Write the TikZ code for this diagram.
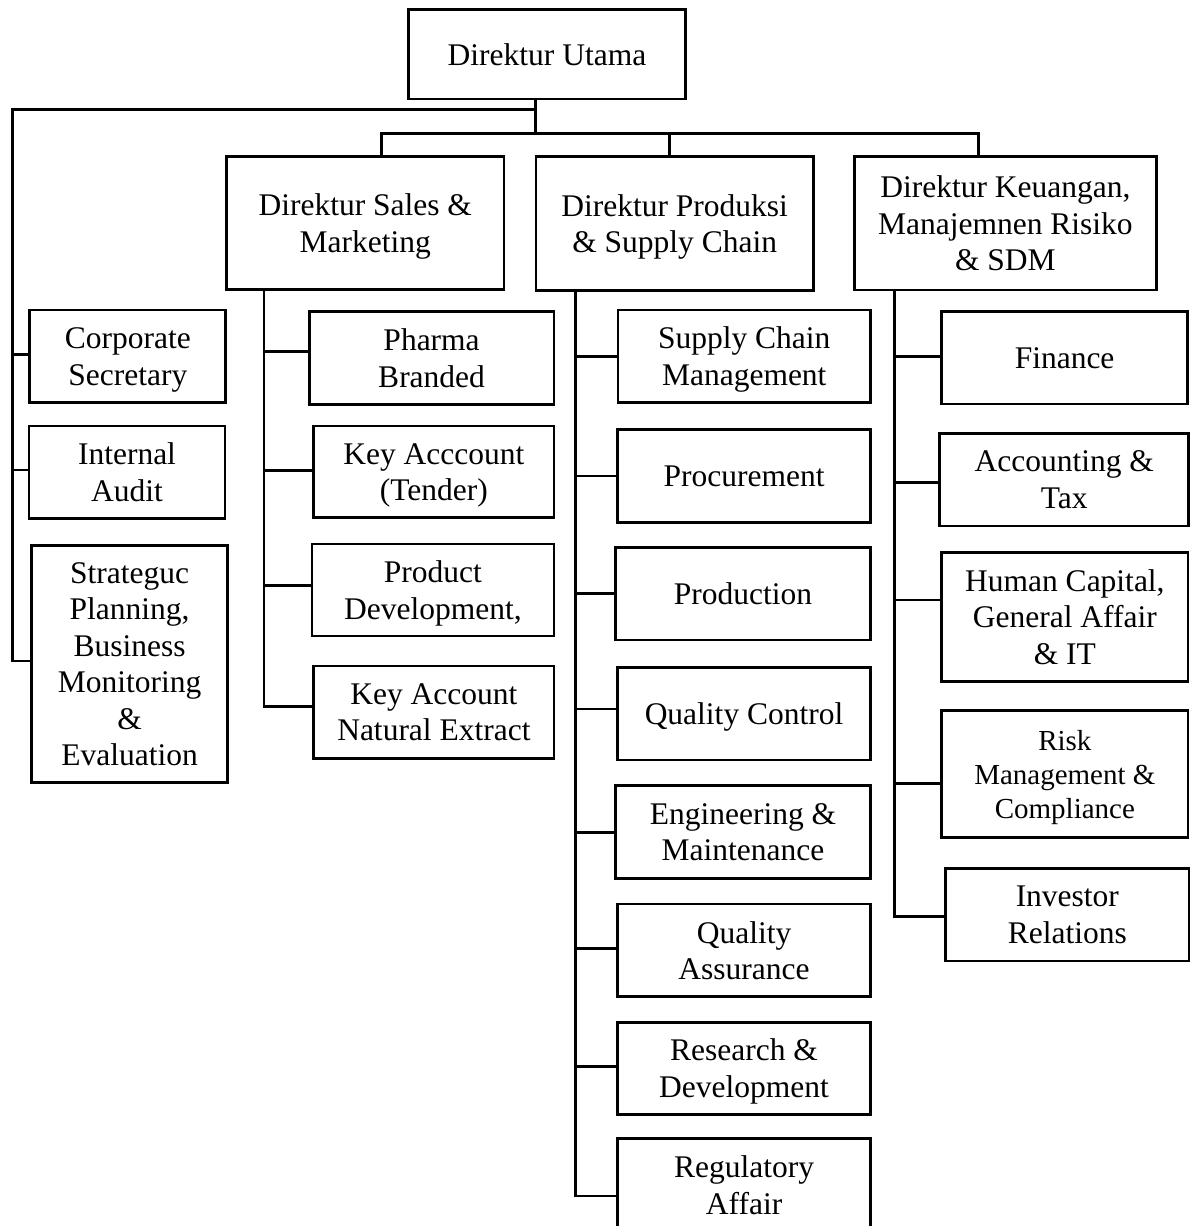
\documentclass[tikz,border=0pt]{standalone}
\usepackage{fontspec}
\setmainfont{Liberation Serif}
\newcommand{\orgbox}[7][]{\node[obox,#1,minimum width={(#5-#3)*1pt},minimum height={(#6-#4)*1pt}] (#2) at ({(#3+#5)/2},{(#4+#6)/2}) {#7};}
\newcommand{\orgconn}[3]{\coordinate (#1j) at (#2,#3); \draw[ln] (#1j) -- (#1j -| #1.west);}
\tikzset{
  ln/.style={line width=2.6pt, line join=miter, line cap=rect},
  obox/.style={draw, line width=2.8pt, inner sep=0pt, outer sep=0pt, align=center, text depth=0pt,
    font=\fontsize{31.5}{36.5}\selectfont},
  smallbox/.style={font=\fontsize{29}{34}\selectfont}
}
\begin{document}
\begin{tikzpicture}[x=1pt,y=-1pt]
\useasboundingbox[fill=white] (0,0) rectangle (1190,1226);
% directors
\orgbox{ut}{408.3}{9.3}{685.7}{99}{Direktur Utama}
\orgbox{sales}{226.5}{156.7}{504}{289.3}{Direktur Sales \&\\Marketing}
\orgbox{prod}{536}{156.7}{813.3}{290.7}{Direktur Produksi\\\& Supply Chain}
\orgbox{keu}{854.2}{156.7}{1156.5}{290}{Direktur Keuangan,\\Manajemnen Risiko\\\& SDM}
% left column
\orgbox{cs}{29.8}{310}{225.8}{402.7}{Corporate\\Secretary}
\orgbox{ia}{29}{426}{225}{518.3}{Internal\\Audit}
\orgbox{sp}{31.4}{545.7}{227.7}{782.3}{Strateguc\\Planning,\\Business\\Monitoring\\\&\\Evaluation}
% sales column
\orgbox{pb}{309.2}{311.7}{554}{404.3}{Pharma\\Branded}
\orgbox{kt}{313.8}{426}{554}{517.7}{Key Acccount\\(Tender)}
\orgbox{pd}{311.9}{544}{554}{636}{Product\\Development,}
\orgbox{kn}{313.8}{666}{554}{758.3}{Key Account\\Natural Extract}
% produksi column
\orgbox{scm}{618}{310}{870.5}{402.3}{Supply Chain\\Management}
\orgbox{proc}{617.5}{429.3}{870.6}{522.3}{Procurement}
\orgbox{pdn}{615.4}{547.3}{870.6}{640}{Production}
\orgbox{qc}{617.5}{667.7}{870.6}{760}{Quality Control}
\orgbox{em}{615.4}{785.7}{870.6}{878.3}{Engineering \&\\Maintenance}
\orgbox{qa}{617.5}{904}{870.6}{996.7}{Quality\\Assurance}
\orgbox{rd}{617.5}{1022.3}{870.6}{1114.3}{Research \&\\Development}
\orgbox{ra}{617.5}{1138.3}{870.6}{1232}{Regulatory\\Affair}
% keuangan column
\orgbox{fin}{941.4}{311.7}{1187.8}{404}{Finance}
\orgbox{acc}{939.7}{433.3}{1188.8}{526}{Accounting \&\\Tax}
\orgbox{hc}{941.7}{552.3}{1188}{681.7}{Human Capital,\\General Affair\\\& IT}
\orgbox[smallbox]{risk}{941.7}{710.7}{1188}{837.3}{Risk\\Management \&\\Compliance}
\orgbox{inv}{945.7}{868.3}{1189}{961}{Investor\\Relations}
% top connectors
\coordinate (utj) at (535.3,133.3);
\coordinate (lj) at (12.6,109.3);
\coordinate (tbl) at (381.5,133.3);
\coordinate (tbm) at (669.4,133.3);
\coordinate (tbr) at (978.3,133.3);
\draw[ln] (utj |- ut.south) -- (utj);
\draw[ln] (tbl |- sales.north) -- (tbl) -- (tbr) -- (tbr |- keu.north);
\draw[ln] (tbm) -- (tbm |- prod.north);
% left column connectors
\orgconn{cs}{12.6}{354.3}
\orgconn{ia}{12.6}{470}
\orgconn{sp}{12.6}{661}
\draw[ln] (lj -| utj) -- (lj) -- (spj);
% sales connectors
\orgconn{pb}{264}{351.7}
\orgconn{kt}{264}{470.7}
\orgconn{pd}{264}{585.7}
\orgconn{kn}{264}{706.7}
\draw[ln] (knj |- sales.south) -- (knj);
% produksi connectors
\orgconn{scm}{575.3}{356.7}
\orgconn{proc}{575.3}{476}
\orgconn{pdn}{575.3}{593.3}
\orgconn{qc}{575.3}{709}
\orgconn{em}{575.3}{832.7}
\orgconn{qa}{575.3}{948.3}
\orgconn{rd}{575.3}{1066.7}
\orgconn{ra}{575.3}{1196}
\draw[ln] (raj |- prod.south) -- (raj);
% keuangan connectors
\orgconn{fin}{894.7}{356.7}
\orgconn{acc}{894.7}{482.3}
\orgconn{hc}{894.7}{600}
\orgconn{risk}{894.7}{783.5}
\orgconn{inv}{894.7}{916.7}
\draw[ln] (invj |- keu.south) -- (invj);
\end{tikzpicture}
\end{document}
